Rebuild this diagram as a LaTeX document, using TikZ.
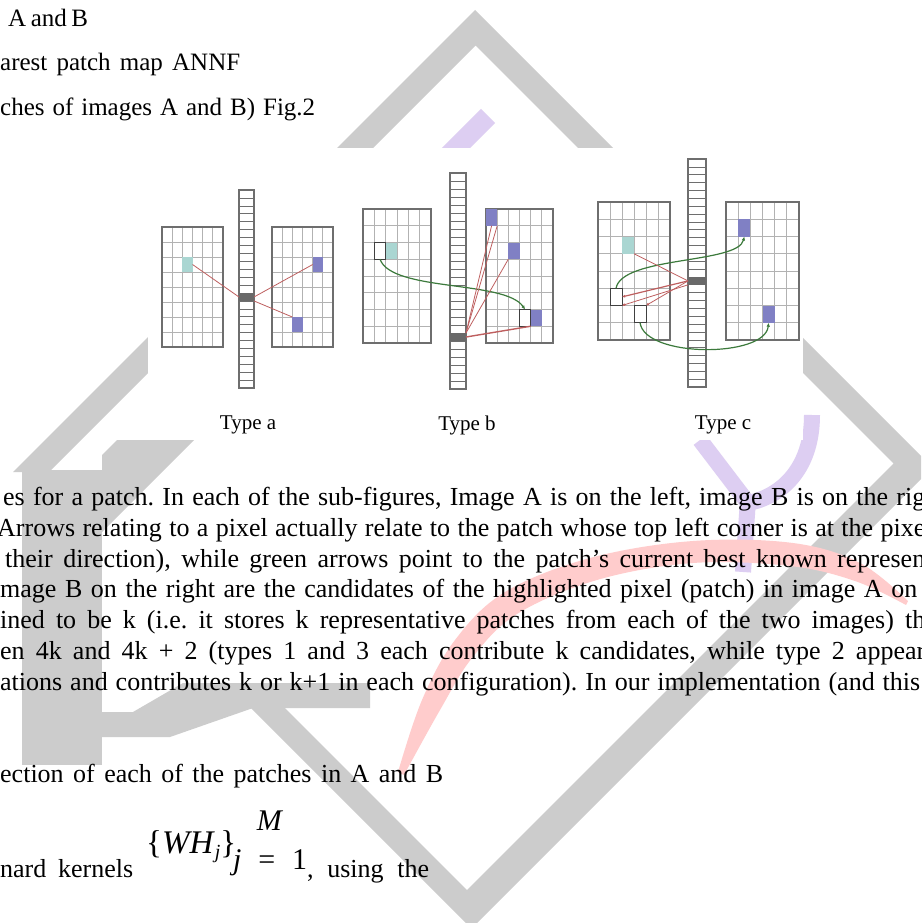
\documentclass[tikz,border=0pt]{standalone}
\usepackage{fontspec}
\setmainfont{Liberation Serif}
\usetikzlibrary{arrows.meta}
\definecolor{wmgray}{RGB}{204,204,204}
\definecolor{wmpurple}{RGB}{221,206,242}
\definecolor{wmpink}{RGB}{255,204,204}
\definecolor{gridborder}{RGB}{110,110,110}
\definecolor{gridline}{RGB}{178,178,178}
\definecolor{cellteal}{RGB}{170,214,210}
\definecolor{cellpurple}{RGB}{128,128,196}
\definecolor{celldark}{RGB}{105,105,105}
\definecolor{redline}{RGB}{190,95,95}
\definecolor{greenline}{RGB}{60,122,60}
\newcommand{\pgrid}[6]{%
  \pgfmathtruncatemacro{\pgridnc}{#5-1}%
  \pgfmathtruncatemacro{\pgridnr}{#6-1}%
  \foreach \k in {1,...,\pgridnc}{\draw[gridthin] ({#1+\k*(#3-#1)/#5},#2) -- ({#1+\k*(#3-#1)/#5},#4);}
  \foreach \k in {1,...,\pgridnr}{\draw[gridthin] (#1,{#2+\k*(#4-#2)/#6}) -- (#3,{#2+\k*(#4-#2)/#6});}
  \draw[gridbox] (#1,#2) rectangle (#3,#4);
}
\newcommand{\pcolumn}[5]{%
  \pgfmathtruncatemacro{\pgridnr}{#5-1}%
  \foreach \k in {1,...,\pgridnr}{\draw[colline] (#1,{#2+\k*(#4-#2)/#5}) -- (#3,{#2+\k*(#4-#2)/#5});}
  \draw[gridbox] (#1,#2) rectangle (#3,#4);
}
\begin{document}
\frenchspacing
\begin{tikzpicture}[x=1pt,y=-1pt,
  gridthin/.style={draw=gridline, line width=0.7pt},
  gridbox/.style={draw=gridborder, line width=1.1pt},
  colline/.style={draw=gridborder, line width=0.6pt},
  cellbox/.style={inner sep=0pt, outer sep=0pt, draw=none},
  emptycell/.style={inner sep=0pt, outer sep=0pt, fill=white, draw=black!75, line width=0.9pt},
  redarrow/.style={draw=redline, line width=0.8pt},
  redtip/.style={draw=redline, line width=0.8pt, -{Latex[length=3pt,width=3pt]}},
  greenarrow/.style={draw=greenline, line width=1.2pt, -{Latex[length=4pt,width=3.5pt]}},
  bodytext/.style={anchor=base west, inner sep=0pt, font=\fontsize{26}{30}\selectfont},
  toptext/.style={anchor=base west, inner sep=0pt, font=\fontsize{25}{30}\selectfont},
  typelabel/.style={inner sep=0pt, font=\fontsize{21}{21}\selectfont}
]
\path[use as bounding box] (0,0) rectangle (921,923);
\begin{scope}
\clip (0,0) rectangle (921,923);
\fill[white] (0,0) rectangle (921,923);
% ---------- watermark ----------
% diamond band (upper arms, right side, bottom vertex, lower-left arm) as one outline
\fill[wmgray] (13,472) -- (475,10) -- (932.5,467.5) -- (471.5,928.5) -- (251,708) -- (260,683)
  -- (467,890) -- (893.5,463.5) -- (475.5,45.5) -- (49,472) -- cycle;
% left stem, its upper branch and the step bar
\fill[wmgray] (22,470) rectangle (102,765);
\fill[wmgray] (117,440) -- (194,440) -- (102,532) -- (102,455) -- cycle;
\fill[wmgray] (102,712) -- (133,712) -- (183,683) -- (370,683) -- (370,708) -- (253,708) -- (170,737) -- (102,737) -- cycle;
% purple strokes
\draw[wmpurple, line width=20pt] (488,116) -- (440,164);
\draw[wmpurple, line width=16pt] (700,440) -- (748,503);
\draw[wmpurple, line width=16pt] (812,415) .. controls (812,470) and (780,497) .. (748,503);
\draw[wmpurple, line width=16pt] (748,500) -- (743,572);
% pink crescent
\fill[wmpink] plot[smooth, tension=0.6] coordinates {(398,772) (422,700) (455,640) (505,592) (590,558) (693,541) (793,543) (860,563) (908,601)}
  -- plot[smooth, tension=0.6] coordinates {(906,605) (855,581) (790,566) (693,563) (597,580) (517,614) (472,658) (440,710) (404,775)} -- cycle;
% ---------- figure panel ----------
\fill[white] (148,148) rectangle (803,440);
% Type a
\pgrid{162}{227}{223}{347}{6}{8}
\pgrid{272}{227}{333}{347}{6}{8}
\pcolumn{239}{190}{254}{388}{25}
\node[cellbox, fill=cellteal, minimum width=10.2pt, minimum height=15pt] (aTeal) at (187.4,264.5) {};
\node[cellbox, fill=cellpurple, minimum width=10.2pt, minimum height=15pt] (aP1) at (317.8,264.5) {};
\node[cellbox, fill=cellpurple, minimum width=10.2pt, minimum height=15pt] (aP2) at (297.4,324.5) {};
\node[cellbox, fill=celldark, minimum width=15pt, minimum height=7.9pt] (aDark) at (246.5,297) {};
\draw[redarrow] (aDark.west) -- (aTeal.east);
\draw[redarrow] (aDark.east) -- (aP1.west);
\draw[redarrow] (aDark.south east) -- (aP2.north west);
\node[typelabel] (labA) at (248,425) {Type a};
% Type b
\pgrid{363}{209}{431}{343}{6}{8}
\pgrid{486}{209}{553}{343}{6}{8}
\pcolumn{450}{173}{466}{389}{27}
\node[cellbox, fill=cellteal, minimum width=11.3pt, minimum height=16.7pt] (bTeal) at (391.3,250.9) {};
\node[emptycell, minimum width=11.3pt, minimum height=16.7pt] (bSq) at (380,250.9) {};
\node[cellbox, fill=cellpurple, minimum width=11.2pt, minimum height=16.7pt] (bP1) at (491.6,217.4) {};
\node[cellbox, fill=cellpurple, minimum width=11.2pt, minimum height=16.7pt] (bP2) at (513.9,250.9) {};
\node[cellbox, fill=cellpurple, minimum width=11.2pt, minimum height=16.7pt] (bP3) at (536.2,317.9) {};
\node[emptycell, minimum width=11.2pt, minimum height=16.7pt] (bSq2) at (525.1,317.9) {};
\node[cellbox, fill=celldark, minimum width=16pt, minimum height=8pt] (bDark) at (458,337) {};
\draw[greenarrow] (bSq.south) .. controls (392,292) and (505,280) .. (bSq2.north);
\draw[redarrow] (bDark.north east) -- (bP1.south east);
\draw[redarrow] (bDark.north east) -- (bP1.south);
\draw[redarrow] (bDark.north east) -- (bP2.south west);
\draw[redarrow, line width=1.4pt] (bDark.east) -- (bSq2.south east);
\node[typelabel] (labB) at (467,425) {Type b};
% Type c
\pgrid{598}{202}{670}{340}{6}{8}
\pgrid{726}{202}{799}{340}{6}{8}
\pcolumn{688}{159}{706}{387}{29}
\node[cellbox, fill=cellteal, minimum width=12pt, minimum height=17.2pt] (cTeal) at (628,245.1) {};
\node[emptycell, minimum width=12pt, minimum height=17.2pt] (cSq1) at (616,296.9) {};
\node[emptycell, minimum width=12pt, minimum height=17.2pt] (cSq2) at (640,314.1) {};
\node[cellbox, fill=cellpurple, minimum width=12.2pt, minimum height=17.2pt] (cP1) at (744.3,227.9) {};
\node[cellbox, fill=cellpurple, minimum width=12.2pt, minimum height=17.2pt] (cP2) at (768.6,314.1) {};
\node[cellbox, fill=celldark, minimum width=18pt, minimum height=7.9pt] (cDark) at (697,280.9) {};
\draw[greenarrow] (cSq1.north) .. controls (622,256) and (738,264) .. (cP1.south);
\draw[greenarrow] (cSq2.south) .. controls (645,358) and (765,358) .. (cP2.south);
\draw[redarrow] (cDark.west) -- (cTeal.south east);
\draw[redtip, line width=1.2pt] (cDark.west) -- (cSq1.east);
\draw[redtip] (cDark.south west) -- (cSq1.south east);
\draw[redtip] (cDark.west) -- (cSq2.north east);
\node[typelabel] (labC) at (723,425) {Type c};
% ---------- text ----------
\node[toptext] (t1) at (8,27) {\makebox[80pt][s]{A and B}};
\node[toptext] (t2) at (0,71) {\makebox[240pt][s]{arest patch map ANNF}};
\node[toptext] (t3) at (0,116) {\makebox[315pt][s]{ches of images A and B) Fig.2}};
\node[bodytext] (p1) at (3,505) {\makebox[922pt][s]{es for a patch. In each of the sub-figures, Image A is on the left, image B is on the rig}};
\node[bodytext] (p2) at (-3,536) {\makebox[928pt][s]{Arrows relating to a pixel actually relate to the patch whose top left corner is at the pixe}};
\node[bodytext] (p3) at (5,567) {\makebox[920pt][s]{their direction), while green arrows point to the patch’s current best known represen}};
\node[bodytext] (p4) at (0,597) {\makebox[917pt][s]{mage B on the right are the candidates of the highlighted pixel (patch) in image A on}};
\node[bodytext] (p5) at (0,628) {\makebox[925pt][s]{ined to be k (i.e. it stores k representative patches from each of the two images) th}};
\node[bodytext] (p6) at (0,659) {\makebox[925pt][s]{en 4k and 4k + 2 (types 1 and 3 each contribute k candidates, while type 2 appear}};
\node[bodytext] (p7) at (0,690) {\makebox[920pt][s]{ations and contributes k or k+1 in each configuration). In our implementation (and this}};
\node[bodytext] (p8) at (0,782) {\makebox[443pt][s]{ection of each of the patches in A and B}};
\node[bodytext] (p9) at (0,877) {\makebox[133pt][s]{nard kernels}};
\node[anchor=base west, inner sep=0pt, font=\fontsize{33}{33}\selectfont] (mWH) at (146,853) {\{\textit{WH}\raisebox{-5pt}{\fontsize{20}{20}\selectfont\textit{j}}\}};
\node[anchor=base west, inner sep=0pt, font=\fontsize{30}{30}\selectfont] (mSub) at (233,869) {\makebox[74pt][s]{\textit{j} = 1}};
\node[anchor=base, inner sep=0pt, font=\fontsize{30}{30}\selectfont] (mSup) at (270,830) {\textit{M}};
\node[bodytext] (p10) at (307,877) {\makebox[122pt][s]{, using the}};
\end{scope}
\end{tikzpicture}
\end{document}
